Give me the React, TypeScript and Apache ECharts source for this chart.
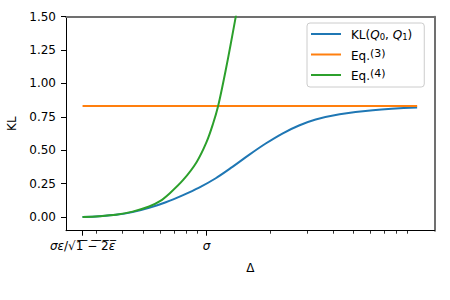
import React, { useEffect, useRef } from "react";
import * as echarts from "echarts";

// Δ in units of σ (log x axis), KL values
const klDelta = [0.258, 0.3095, 0.3714, 0.4457, 0.5342, 0.6412, 0.7695, 0.9224, 1.1068, 1.3282, 1.5922, 1.9107, 2.2928, 2.7489, 3.2983, 4.286, 6.166, 10.0];
const klValues = [0.0, 0.006, 0.016, 0.036, 0.068, 0.11, 0.162, 0.22, 0.29, 0.375, 0.465, 0.55, 0.625, 0.685, 0.73, 0.77, 0.8, 0.819];

const eq3Delta = [0.258, 10.0];
const eq3Values = [0.832, 0.832];

const eq4Delta = [0.258, 0.3095, 0.3714, 0.4457, 0.5342, 0.601, 0.67, 0.775, 0.897, 1.0, 1.075, 1.135, 1.198, 1.266, 1.337, 1.377, 1.438, 1.519];
const eq4Values = [0.0, 0.006, 0.016, 0.04, 0.078, 0.118, 0.178, 0.277, 0.41, 0.56, 0.7, 0.83, 1.0, 1.19, 1.39, 1.5, 1.68, 1.93];

const seriesNames = ["KL", "Eq3", "Eq4"];
const legendLabels = [
  "{g|}{n|KL(}{i|Q}{s|0}{n|, }{i|Q}{s|1}{n|)}",
  "{g|}{n|Eq.}{p|(3)}",
  "{g|}{n|Eq.}{p|(4)}",
];
const seriesColors = ["#1f77b4", "#ff7f0e", "#2ca02c"];

const yTicks = [0, 0.25, 0.5, 0.75, 1.0, 1.25, 1.5];
const xMajorTicks = [0.258, 1];
const xMajorLabels = ["{i|σε}{n|/√}{o|1\u0305 \u0305\u2212\u0305 \u03052\u0305}{oi|ε\u0305}", "{i|σ}"];
const xMinorTicks = [0.3, 0.4, 0.5, 0.6, 0.7, 0.8, 0.9, 2, 3, 4, 5, 6, 7, 8, 9];

const X_MIN = 0.2153;
const X_MAX = 12.09;
const Y_MIN = -0.103;
const Y_MAX = 1.5;

const FONT = "DejaVu Sans";

export default function App() {
  const ref = useRef<HTMLDivElement>(null);

  useEffect(() => {
    document.body.style.margin = "0";
    if (!ref.current) return;
    const chart = echarts.init(ref.current, null, { renderer: "svg" });

    const richText = {
      n: { fontFamily: FONT, fontSize: 12, color: "#000", lineHeight: 14 },
      i: { fontFamily: FONT, fontSize: 12, fontStyle: "italic", color: "#000", lineHeight: 14 },
      o: { fontFamily: FONT, fontSize: 12, color: "#000", lineHeight: 14 },
      oi: { fontFamily: FONT, fontSize: 12, fontStyle: "italic", color: "#000", lineHeight: 14 },
    };

    const xFormatter = (v: number) => {
      const idx = xMajorTicks.findIndex((t) => Math.abs(t - v) / t < 1e-3);
      return idx >= 0 ? xMajorLabels[idx] : "";
    };

    const lineSeries = (idx: number, xs: number[], ys: number[], smooth: boolean) => ({
      type: "line",
      name: seriesNames[idx],
      data: xs.map((d, i) => [d, ys[i]]),
      xAxisIndex: 0,
      yAxisIndex: 0,
      symbol: "none",
      smooth: smooth ? 0.35 : false,
      clip: true,
      lineStyle: { color: seriesColors[idx], width: 2 },
      itemStyle: { color: seriesColors[idx] },
      z: 3 + idx,
    });

    const option: any = {
      animation: false,
      textStyle: { fontFamily: FONT },
      grid: { left: 66, right: 15.5, top: 16.7, bottom: 69.3, outerBoundsMode: "none", containLabel: false },
      legend: {
        orient: "vertical",
        left: 307,
        top: 23,
        padding: [5, 12, 5, 4],
        itemGap: 6.5,
        itemWidth: 30,
        itemHeight: 2,
        icon: "rect",
        backgroundColor: "rgba(255,255,255,0.8)",
        borderColor: "#cccccc",
        borderWidth: 1,
        borderRadius: 3,
        data: seriesNames,
        formatter: (name: string) => legendLabels[seriesNames.indexOf(name)],
        textStyle: {
          fontFamily: FONT,
          fontSize: 12,
          color: "#000",
          rich: {
            g: { width: 5, lineHeight: 14 },
            n: { fontFamily: FONT, fontSize: 12, color: "#000", lineHeight: 14, verticalAlign: "bottom" },
            i: { fontFamily: FONT, fontSize: 12, fontStyle: "italic", color: "#000", lineHeight: 14, verticalAlign: "bottom" },
            s: { fontFamily: FONT, fontSize: 8.5, color: "#000", lineHeight: 8, verticalAlign: "bottom" },
            p: { fontFamily: FONT, fontSize: 11, color: "#000", lineHeight: 7, verticalAlign: "top" },
          },
        },
      },
      xAxis: [
        {
          type: "log",
          logBase: 10,
          min: X_MIN,
          max: X_MAX,
          position: "bottom",
          name: "Δ",
          nameLocation: "middle",
          nameGap: 31,
          nameTextStyle: { fontFamily: FONT, fontSize: 12, color: "#000" },
          axisLine: { show: true, onZero: false, lineStyle: { color: "#000", width: 1 } },
          axisTick: { show: true, length: 5, lineStyle: { color: "#000", width: 1 }, customValues: xMajorTicks },
          axisLabel: { show: true, margin: 8, formatter: xFormatter, customValues: xMajorTicks, rich: richText, color: "#000" },
          splitLine: { show: false },
          minorTick: { show: false },
        },
        {
          type: "log",
          logBase: 10,
          min: X_MIN,
          max: X_MAX,
          position: "bottom",
          axisLine: { show: false, onZero: false },
          axisTick: { show: true, length: 3, lineStyle: { color: "#000", width: 0.8 }, customValues: xMinorTicks },
          axisLabel: { show: false },
          splitLine: { show: false },
        },
        {
          type: "log",
          logBase: 10,
          min: X_MIN,
          max: X_MAX,
          position: "top",
          axisLine: { show: true, onZero: false, lineStyle: { color: "#707070", width: 2 } },
          axisTick: { show: false },
          axisLabel: { show: false },
          splitLine: { show: false },
        },
      ],
      yAxis: [
        {
          type: "value",
          min: Y_MIN,
          max: Y_MAX,
          position: "left",
          name: "KL",
          nameLocation: "middle",
          nameGap: 47,
          nameTextStyle: { fontFamily: FONT, fontSize: 12, color: "#000" },
          axisLine: { show: true, onZero: false, lineStyle: { color: "#000", width: 1 } },
          axisTick: { show: true, length: 5, lineStyle: { color: "#000", width: 1 }, customValues: yTicks },
          axisLabel: {
            show: true,
            margin: 10,
            customValues: yTicks,
            formatter: (v: number) => v.toFixed(2),
            fontFamily: FONT,
            fontSize: 12,
            color: "#000",
          },
          splitLine: { show: false },
        },
        {
          type: "value",
          min: Y_MIN,
          max: Y_MAX,
          position: "right",
          axisLine: { show: true, onZero: false, lineStyle: { color: "#707070", width: 2 } },
          axisTick: { show: false },
          axisLabel: { show: false },
          splitLine: { show: false },
        },
      ],
      series: [
        lineSeries(0, klDelta, klValues, true),
        lineSeries(1, eq3Delta, eq3Values, false),
        lineSeries(2, eq4Delta, eq4Values, true),
      ],
    };

    chart.setOption(option);
    return () => {
      chart.dispose();
    };
  }, []);

  return <div ref={ref} style={{ width: 450, height: 300 }} />;
}
